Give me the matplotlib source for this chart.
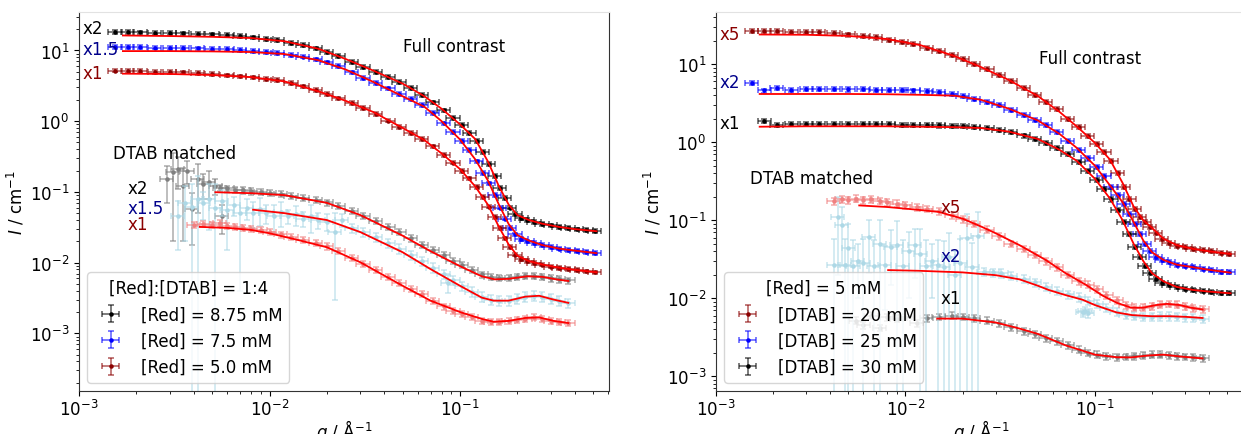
import numpy as np
import matplotlib
matplotlib.use("Agg")
import matplotlib.pyplot as plt
from matplotlib.colors import to_rgba

plt.rcParams.update({
    "font.family": "DejaVu Sans",
    "font.size": 12,
    "mathtext.fontset": "dejavusans",
})

# ---------------------------------------------------------------- data
# shared q grid (1/A) for the full-contrast curves
Q_FC = [0.00155, 0.0018, 0.0021, 0.0025, 0.003, 0.0035, 0.0042, 0.005, 0.006, 0.007,
        0.0082, 0.0096, 0.011, 0.013, 0.015, 0.0175, 0.02, 0.023, 0.027, 0.031,
        0.036, 0.042, 0.048, 0.055, 0.063, 0.072, 0.082, 0.092, 0.102, 0.112,
        0.122, 0.132, 0.142, 0.152, 0.162, 0.172, 0.183, 0.195, 0.21, 0.225,
        0.245, 0.27, 0.3, 0.33, 0.37, 0.41, 0.46, 0.51]
Q_FC_LATE = Q_FC[1:]
Q_FIT_FC = [0.0017, 0.003, 0.005, 0.008, 0.012, 0.018, 0.025, 0.035, 0.05, 0.065, 0.08,
            0.1, 0.12, 0.14, 0.16, 0.18, 0.2, 0.23, 0.27, 0.33, 0.4, 0.52]

# left panel, [Red]:[DTAB] = 1:4, full contrast (already scaled x2, x1.5, x1)
I_red875_full = [18.2, 18.1, 18.0, 17.8, 17.6, 17.4, 17.2, 16.9, 16.4, 15.9, 15.3, 14.7,
                 14.0, 12.9, 11.9, 10.7, 9.5, 8.3, 6.9, 5.9, 5.0, 4.2, 3.55, 2.95, 2.35,
                 1.85, 1.42, 1.12, 0.88, 0.68, 0.52, 0.37, 0.25, 0.17, 0.115, 0.082,
                 0.060, 0.049, 0.043, 0.040, 0.0375, 0.0355, 0.0335, 0.032, 0.0308,
                 0.0296, 0.0287, 0.0280]
I_red75_full = [11.2, 11.1, 11.1, 11.0, 10.95, 10.85, 10.7, 10.6, 10.4, 10.2, 9.9, 9.6,
                9.2, 8.7, 8.2, 7.5, 6.8, 6.0, 4.9, 4.1, 3.45, 2.9, 2.45, 2.05, 1.68, 1.3,
                0.93, 0.71, 0.53, 0.39, 0.27, 0.185, 0.132, 0.090, 0.060, 0.042, 0.031,
                0.025, 0.0215, 0.0200, 0.0188, 0.0176, 0.0165, 0.0158, 0.0152, 0.0146,
                0.0141, 0.0137]
I_red50_full = [5.2, 5.15, 5.1, 5.0, 4.95, 4.9, 4.8, 4.65, 4.45, 4.3, 4.15, 4.0, 3.8,
                3.45, 3.1, 2.75, 2.44, 2.1, 1.8, 1.55, 1.28, 1.02, 0.83, 0.68, 0.56,
                0.44, 0.33, 0.26, 0.2, 0.155, 0.117, 0.085, 0.062, 0.044, 0.031, 0.022,
                0.0165, 0.0130, 0.0113, 0.0105, 0.0099, 0.0094, 0.0088, 0.0085, 0.0081,
                0.0078, 0.0075, 0.0073]
fit_red875_full = [16.3, 16.0, 15.6, 15.0, 13.5, 10.6, 7.6, 5.2, 3.4, 2.25, 1.5, 0.9,
                   0.56, 0.27, 0.12, 0.066, 0.047, 0.040, 0.0355, 0.032, 0.0298, 0.0278]
fit_red75_full = [9.8, 9.8, 9.7, 9.5, 8.9, 7.3, 5.4, 3.6, 2.25, 1.6, 1.0, 0.55, 0.29,
                  0.145, 0.066, 0.035, 0.0245, 0.0205, 0.0177, 0.0158, 0.0148, 0.0136]
fit_red50_full = [4.7, 4.65, 4.5, 4.2, 3.65, 2.65, 1.95, 1.35, 0.8, 0.54, 0.35, 0.21,
                  0.12, 0.066, 0.032, 0.018, 0.0125, 0.0105, 0.0094, 0.0085, 0.0079, 0.0073]

# left panel, DTAB matched
q_red875_dm = [0.0055, 0.006, 0.0066, 0.0073, 0.008, 0.009, 0.01, 0.0115, 0.013, 0.015,
               0.0175, 0.02, 0.023, 0.027, 0.031, 0.036, 0.042, 0.048, 0.055, 0.063,
               0.072, 0.082, 0.092, 0.102, 0.115, 0.13, 0.145, 0.16, 0.18, 0.2, 0.22,
               0.245, 0.27, 0.3, 0.33, 0.37]
I_red875_dm = [0.115, 0.112, 0.108, 0.105, 0.102, 0.1, 0.097, 0.093, 0.088, 0.083,
               0.077, 0.071, 0.063, 0.054, 0.046, 0.039, 0.032, 0.027, 0.022, 0.018,
               0.015, 0.013, 0.0107, 0.0093, 0.0078, 0.0068, 0.0063, 0.0061, 0.0061,
               0.0063, 0.0065, 0.0065, 0.0063, 0.006, 0.0058, 0.0056]
q_red875_dm_low = [0.0029, 0.0031, 0.0033, 0.0035, 0.0037, 0.0039, 0.0042, 0.0045,
                   0.0048, 0.0052, 0.0056]
I_red875_dm_low = [0.15, 0.19, 0.21, 0.12, 0.2, 0.058, 0.15, 0.13, 0.14, 0.12, 0.045]
dI_red875_dm_low = [0.08, 0.17, 0.1, 0.1, 0.07, 0.04, 0.1, 0.05, 0.06, 0.03, 0.02]

q_red75_dm = [0.027, 0.031, 0.036, 0.042, 0.048, 0.055, 0.063, 0.072, 0.082, 0.092,
              0.102, 0.115, 0.13, 0.145, 0.16, 0.18, 0.2, 0.22, 0.245, 0.27, 0.3, 0.33,
              0.37]
I_red75_dm = [0.031, 0.027, 0.023, 0.019, 0.0158, 0.0128, 0.0105, 0.0085, 0.0068,
              0.0056, 0.0047, 0.0039, 0.0033, 0.003, 0.0029, 0.0029, 0.0031, 0.0033,
              0.0034, 0.0033, 0.0031, 0.0029, 0.0027]
q_red75_dm_low = [0.0033, 0.0036, 0.0039, 0.0042, 0.0045, 0.0048, 0.0052, 0.0056, 0.006,
                  0.0065, 0.007, 0.0076, 0.0082, 0.0089, 0.0096, 0.0105, 0.0115, 0.0125,
                  0.0137, 0.015, 0.0165, 0.018, 0.02, 0.022, 0.024, 0.086]
I_red75_dm_low = [0.045, 0.07, 0.061, 0.08, 0.07, 0.079, 0.06, 0.075, 0.055, 0.065,
                  0.05, 0.06, 0.051, 0.058, 0.05, 0.046, 0.052, 0.045, 0.048, 0.042,
                  0.046, 0.04, 0.038, 0.027, 0.04, 0.0052]
dI_red75_dm_low = [0.03, 0.05, 0.07, 0.09, 0.03, 0.05, 0.07, 0.03, 0.04, 0.02, 0.046,
                   0.02, 0.02, 0.025, 0.015, 0.02, 0.02, 0.01, 0.015, 0.01, 0.02, 0.01,
                   0.01, 0.024, 0.008, 0.0015]

q_red50_dm = [0.004, 0.0045, 0.005, 0.0055, 0.006, 0.0066, 0.0073, 0.008, 0.009, 0.01,
              0.0115, 0.013, 0.015, 0.0175, 0.02, 0.023, 0.027, 0.031, 0.036, 0.042,
              0.048, 0.055, 0.063, 0.072, 0.082, 0.092, 0.102, 0.115, 0.13, 0.145,
              0.16, 0.18, 0.2, 0.22, 0.245, 0.27, 0.3, 0.33, 0.37]
I_red50_dm = [0.034, 0.035, 0.034, 0.036, 0.033, 0.032, 0.031, 0.030, 0.029, 0.027,
              0.025, 0.023, 0.021, 0.019, 0.017, 0.0145, 0.0118, 0.0095, 0.0078, 0.0063,
              0.0052, 0.0043, 0.0036, 0.0029, 0.0024, 0.0021, 0.0019, 0.0017, 0.0015,
              0.00145, 0.00145, 0.0015, 0.00155, 0.0016, 0.0017, 0.0016, 0.0015,
              0.00145, 0.0014]

q_fit_red875_dm = [0.0052, 0.008, 0.012, 0.02, 0.03, 0.05, 0.07, 0.1, 0.13, 0.152, 0.18,
                   0.225, 0.27, 0.32, 0.37]
fit_red875_dm = [0.099, 0.096, 0.09, 0.07, 0.047, 0.024, 0.0145, 0.0089, 0.0064, 0.0058,
                 0.0059, 0.0064, 0.0063, 0.0058, 0.0055]
q_fit_red75_dm = [0.0082, 0.012, 0.02, 0.03, 0.05, 0.07, 0.1, 0.13, 0.15, 0.18, 0.22,
                  0.26, 0.31, 0.37]
fit_red75_dm = [0.056, 0.05, 0.04, 0.027, 0.014, 0.0081, 0.0047, 0.0032, 0.0029, 0.0029,
                0.0033, 0.0034, 0.003, 0.0027]
q_fit_red50_dm = [0.0043, 0.006, 0.008, 0.01, 0.014, 0.02, 0.03, 0.05, 0.07, 0.1, 0.13,
                  0.15, 0.18, 0.22, 0.26, 0.31, 0.37]
fit_red50_dm = [0.032, 0.031, 0.029, 0.026, 0.021, 0.0165, 0.0101, 0.0047, 0.0029, 0.002,
                0.0016, 0.00146, 0.0015, 0.00165, 0.00168, 0.0015, 0.0014]

# right panel, [Red] = 5 mM, full contrast (already scaled x5, x2, x1)
I_dtab20_full = [26.5, 26.5, 26.3, 26.0, 25.8, 25.5, 25.0, 24.0, 23.0, 22.0, 20.7, 19.4,
                 18.0, 16.3, 14.6, 13.0, 11.6, 10.2, 8.6, 7.3, 6.1, 4.9, 4.0, 3.3, 2.65,
                 2.0, 1.55, 1.2, 0.96, 0.76, 0.58, 0.40, 0.27, 0.19, 0.14, 0.11, 0.094,
                 0.082, 0.068, 0.058, 0.051, 0.047, 0.045, 0.043, 0.042, 0.040, 0.038,
                 0.037]
I_dtab25_full = [5.8, 4.6, 4.9, 4.7, 4.8, 4.85, 4.8, 4.75, 4.8, 4.7, 4.7, 4.65, 4.6, 4.5,
                 4.35, 4.15, 3.9, 3.6, 3.3, 3.0, 2.6, 2.25, 1.95, 1.65, 1.35, 1.05, 0.8,
                 0.62, 0.48, 0.37, 0.27, 0.21, 0.16, 0.12, 0.09, 0.067, 0.05, 0.04, 0.034,
                 0.031, 0.029, 0.027, 0.026, 0.025, 0.024, 0.023, 0.022, 0.0215]
I_dtab30_full = [1.85, 1.65, 1.7, 1.72, 1.7, 1.72, 1.7, 1.7, 1.7, 1.7, 1.68, 1.68, 1.66,
                 1.64, 1.62, 1.6, 1.57, 1.52, 1.45, 1.35, 1.22, 1.1, 0.97, 0.84, 0.71,
                 0.56, 0.43, 0.33, 0.25, 0.185, 0.135, 0.095, 0.066, 0.046, 0.034, 0.026,
                 0.021, 0.0175, 0.0158, 0.0148, 0.014, 0.0133, 0.0128, 0.0124, 0.0121,
                 0.0118, 0.0116]
fit_dtab20_full = [24.0, 23.8, 23.0, 21.0, 17.5, 12.8, 9.2, 6.3, 3.9, 2.45, 1.6, 0.98,
                   0.6, 0.3, 0.15, 0.1, 0.08, 0.058, 0.048, 0.043, 0.04, 0.037]
fit_dtab25_full = [4.15, 4.15, 4.15, 4.12, 4.05, 3.95, 3.5, 2.7, 1.9, 1.28, 0.85, 0.5,
                   0.28, 0.17, 0.095, 0.055, 0.039, 0.031, 0.027, 0.025, 0.0232, 0.0213]
fit_dtab30_full = [1.58, 1.6, 1.6, 1.6, 1.58, 1.56, 1.52, 1.37, 1.1, 0.8, 0.58, 0.34,
                   0.19, 0.1, 0.05, 0.03, 0.021, 0.0165, 0.014, 0.0128, 0.0122, 0.0116]

# right panel, DTAB matched
q_dtab20_dm = [0.0042, 0.0046, 0.005, 0.0055, 0.006, 0.0066, 0.0073, 0.008, 0.009, 0.01,
               0.0115, 0.013, 0.015, 0.0175, 0.02, 0.023, 0.027, 0.031, 0.036, 0.042,
               0.048, 0.055, 0.063, 0.072, 0.082, 0.092, 0.102, 0.115, 0.13, 0.145,
               0.16, 0.18, 0.2, 0.22, 0.245, 0.27, 0.3, 0.33, 0.37]
I_dtab20_dm = [0.175, 0.185, 0.18, 0.19, 0.182, 0.185, 0.178, 0.17, 0.163, 0.155, 0.148,
               0.14, 0.13, 0.117, 0.104, 0.09, 0.076, 0.063, 0.05, 0.043, 0.036, 0.03,
               0.025, 0.02, 0.0165, 0.015, 0.0132, 0.011, 0.0094, 0.0081, 0.0076,
               0.0076, 0.0079, 0.0083, 0.0085, 0.0083, 0.0079, 0.0075, 0.0072]
q_dtab25_dm = [0.026, 0.029, 0.032, 0.036, 0.042, 0.048, 0.055, 0.063, 0.072, 0.082,
               0.092, 0.102, 0.115, 0.13, 0.145, 0.16, 0.18, 0.2, 0.22, 0.245, 0.27,
               0.3, 0.33, 0.37]
I_dtab25_dm = [0.022, 0.0215, 0.021, 0.0195, 0.0178, 0.016, 0.014, 0.0124, 0.0112,
               0.0103, 0.0093, 0.0085, 0.0075, 0.0067, 0.0062, 0.006, 0.0058, 0.0058,
               0.0059, 0.0059, 0.0058, 0.0057, 0.0056, 0.0055]
q_dtab25_dm_low = [0.0042, 0.0044, 0.0046, 0.0048, 0.005, 0.0053, 0.0056, 0.006, 0.0064,
                   0.0068, 0.0073, 0.0078, 0.0084, 0.009, 0.0097, 0.0104, 0.0112, 0.012,
                   0.0129, 0.0138, 0.0148, 0.0159, 0.017, 0.0182, 0.0195, 0.021, 0.0225,
                   0.024, 0.086, 0.089, 0.092]
I_dtab25_dm_low = [0.027, 0.11, 0.086, 0.027, 0.044, 0.026, 0.03, 0.028, 0.061, 0.026,
                   0.05, 0.027, 0.045, 0.048, 0.026, 0.04, 0.048, 0.0375, 0.026, 0.03,
                   0.0267, 0.025, 0.034, 0.02, 0.028, 0.059, 0.025, 0.063, 0.0066,
                   0.0069, 0.0064]
dI_dtab25_dm_low = [0.03, 0.09, 0.06, 0.03, 0.045, 0.03, 0.02, 0.03, 0.04, 0.03, 0.05,
                    0.02, 0.03, 0.05, 0.03, 0.03, 0.03, 0.04, 0.03, 0.02, 0.03, 0.03,
                    0.035, 0.02, 0.03, 0.06, 0.026, 0.065, 0.0008, 0.0008, 0.0008]
q_dtab30_dm = [0.0055, 0.006, 0.0066, 0.0073, 0.008, 0.009, 0.01, 0.0115, 0.013, 0.015,
               0.0175, 0.02, 0.023, 0.027, 0.031, 0.036, 0.042, 0.048, 0.055, 0.063,
               0.072, 0.082, 0.092, 0.102, 0.115, 0.13, 0.145, 0.16, 0.18, 0.2, 0.22,
               0.245, 0.27, 0.3, 0.33, 0.37]
I_dtab30_dm = [0.0052, 0.0045, 0.006, 0.0042, 0.0057, 0.0055, 0.0058, 0.0048, 0.0056,
               0.0058, 0.006, 0.0058, 0.0056, 0.0052, 0.0048, 0.0043, 0.0038, 0.0035,
               0.0031, 0.0028, 0.0025, 0.0022, 0.002, 0.0019, 0.0018, 0.00175, 0.00178,
               0.0018, 0.00185, 0.0019, 0.0019, 0.00188, 0.0018, 0.00178, 0.00175,
               0.0017]

q_fit_dtab20_dm = [0.0057, 0.008, 0.011, 0.015, 0.02, 0.0254, 0.03, 0.04, 0.055, 0.07,
                   0.09, 0.11, 0.13, 0.155, 0.18, 0.21, 0.24, 0.28, 0.32, 0.37]
fit_dtab20_dm = [0.155, 0.148, 0.138, 0.128, 0.105, 0.082, 0.068, 0.048, 0.031, 0.021,
                 0.0148, 0.0108, 0.0088, 0.0076, 0.0076, 0.0082, 0.0085, 0.0082, 0.0076,
                 0.0072]
q_fit_dtab25_dm = [0.0081, 0.012, 0.02, 0.03, 0.04, 0.05, 0.057, 0.07, 0.086, 0.1, 0.13,
                   0.157, 0.2, 0.25, 0.3, 0.37]
fit_dtab25_dm = [0.023, 0.0225, 0.0215, 0.0198, 0.0175, 0.0145, 0.0128, 0.011, 0.0096,
                 0.0082, 0.0066, 0.0061, 0.0059, 0.0059, 0.0058, 0.0056]
q_fit_dtab30_dm = [0.0147, 0.02, 0.03, 0.04, 0.05, 0.07, 0.1, 0.13, 0.155, 0.19, 0.23,
                   0.28, 0.37]
fit_dtab30_dm = [0.0055, 0.0055, 0.0049, 0.0041, 0.0035, 0.0025, 0.0019, 0.00176,
                 0.00175, 0.00185, 0.0019, 0.0018, 0.0017]

# relative uncertainties
DQ_REL = 0.08
DI_REL_FULL = 0.06
DI_REL_DM = 0.10


def points(ax, q, I, color, dI=None, rel=DI_REL_DM, label=None, z=2):
    q = np.asarray(q, float)
    I = np.asarray(I, float)
    dI = rel * I if dI is None else np.asarray(dI, float)
    lower = np.minimum(dI, 0.9999 * I)
    ax.errorbar(q, I, yerr=[lower, dI], xerr=DQ_REL * q, fmt=".", ms=4.5,
                color=color, ecolor=to_rgba(color, 0.65), elinewidth=1.1,
                capsize=2.5, capthick=1.1, label=label, zorder=z)


def fit(ax, q, I):
    ax.plot(q, I, color="red", lw=1.3, zorder=6)


def style(ax, xmax, ylim):
    ax.set_xscale("log")
    ax.set_yscale("log")
    ax.set_xlim(1e-3, xmax)
    ax.set_ylim(*ylim)
    ax.tick_params(axis="x", pad=2)
    ax.set_xlabel(r"$q$ / Å$^{-1}$", labelpad=-1)
    ax.set_ylabel(r"$I$ / cm$^{-1}$", labelpad=2)
    for side in ["left", "bottom", "right"]:
        ax.spines[side].set_color("#333333")
    ax.spines["top"].set_color("#e2e2e2")


fig = plt.figure(figsize=(12.41, 4.35), dpi=100)
axL = fig.add_axes([79 / 1241, 43 / 435, 530 / 1241, 379 / 435])
axR = fig.add_axes([716 / 1241, 43 / 435, 530 / 1241, 379 / 435])

# ---- left panel
points(axL, q_red875_dm_low, I_red875_dm_low, "grey", dI=dI_red875_dm_low, z=1)
points(axL, q_red875_dm, I_red875_dm, "grey", z=1)
points(axL, q_red75_dm_low, I_red75_dm_low, "lightblue", dI=dI_red75_dm_low, z=2)
points(axL, q_red75_dm, I_red75_dm, "lightblue", rel=0.15, z=2)
points(axL, q_red50_dm, I_red50_dm, "lightcoral", z=2)
points(axL, Q_FC, I_red875_full, "black", rel=DI_REL_FULL, label="[Red] = 8.75 mM", z=3)
points(axL, Q_FC, I_red75_full, "blue", rel=DI_REL_FULL, label="[Red] = 7.5 mM", z=3)
points(axL, Q_FC, I_red50_full, "darkred", rel=DI_REL_FULL, label="[Red] = 5.0 mM", z=3)
for q, I in [(Q_FIT_FC, fit_red875_full), (Q_FIT_FC, fit_red75_full),
             (Q_FIT_FC, fit_red50_full), (q_fit_red875_dm, fit_red875_dm),
             (q_fit_red75_dm, fit_red75_dm), (q_fit_red50_dm, fit_red50_dm)]:
    fit(axL, q, I)
style(axL, 0.605, (1.53e-4, 35))

tL = dict(transform=axL.transAxes, va="center", ha="left", zorder=8)
axL.text(0.007, 0.958, "x2", color="black", **tL)
axL.text(0.007, 0.902, "x1.5", color="darkblue", **tL)
axL.text(0.007, 0.839, "x1", color="darkred", **tL)
axL.text(0.612, 0.911, "Full contrast", color="black", **tL)
axL.text(0.064, 0.627, "DTAB matched", color="black", **tL)
axL.text(0.091, 0.536, "x2", color="black", **tL)
axL.text(0.091, 0.482, "x1.5", color="darkblue", **tL)
axL.text(0.091, 0.440, "x1", color="darkred", **tL)
legL = axL.legend(loc="lower left", title="[Red]:[DTAB] = 1:4", fontsize=12,
                  title_fontsize=12)
legL.set_zorder(10)

# ---- right panel
points(axR, q_dtab30_dm, I_dtab30_dm, "grey", z=1)
points(axR, q_dtab25_dm_low, I_dtab25_dm_low, "lightblue", dI=dI_dtab25_dm_low, z=2)
points(axR, q_dtab25_dm, I_dtab25_dm, "lightblue", rel=0.12, z=2)
points(axR, q_dtab20_dm, I_dtab20_dm, "lightcoral", z=2)
points(axR, Q_FC, I_dtab20_full, "darkred", rel=DI_REL_FULL, label="[DTAB] = 20 mM", z=3)
points(axR, Q_FC, I_dtab25_full, "blue", rel=DI_REL_FULL, label="[DTAB] = 25 mM", z=3)
points(axR, Q_FC_LATE, I_dtab30_full, "black", rel=DI_REL_FULL, label="[DTAB] = 30 mM", z=3)
for q, I in [(Q_FIT_FC, fit_dtab20_full), (Q_FIT_FC, fit_dtab25_full),
             (Q_FIT_FC, fit_dtab30_full), (q_fit_dtab20_dm, fit_dtab20_dm),
             (q_fit_dtab25_dm, fit_dtab25_dm), (q_fit_dtab30_dm, fit_dtab30_dm)]:
    fit(axR, q, I)
style(axR, 0.627, (6.5e-4, 46.6))

tR = dict(transform=axR.transAxes, va="center", ha="left", zorder=8)
axR.text(0.007, 0.942, "x5", color="darkred", **tR)
axR.text(0.007, 0.815, "x2", color="darkblue", **tR)
axR.text(0.007, 0.706, "x1", color="black", **tR)
axR.text(0.609, 0.878, "Full contrast", color="black", **tR)
axR.text(0.065, 0.562, "DTAB matched", color="black", **tR)
axR.text(0.423, 0.486, "x5", color="darkred", **tR)
axR.text(0.423, 0.355, "x2", color="darkblue", **tR)
axR.text(0.423, 0.245, "x1", color="black", **tR)
legR = axR.legend(loc="lower left", title="[Red] = 5 mM", fontsize=12,
                  title_fontsize=12)
legR.set_zorder(10)

fig.savefig("out.png", dpi=100)
